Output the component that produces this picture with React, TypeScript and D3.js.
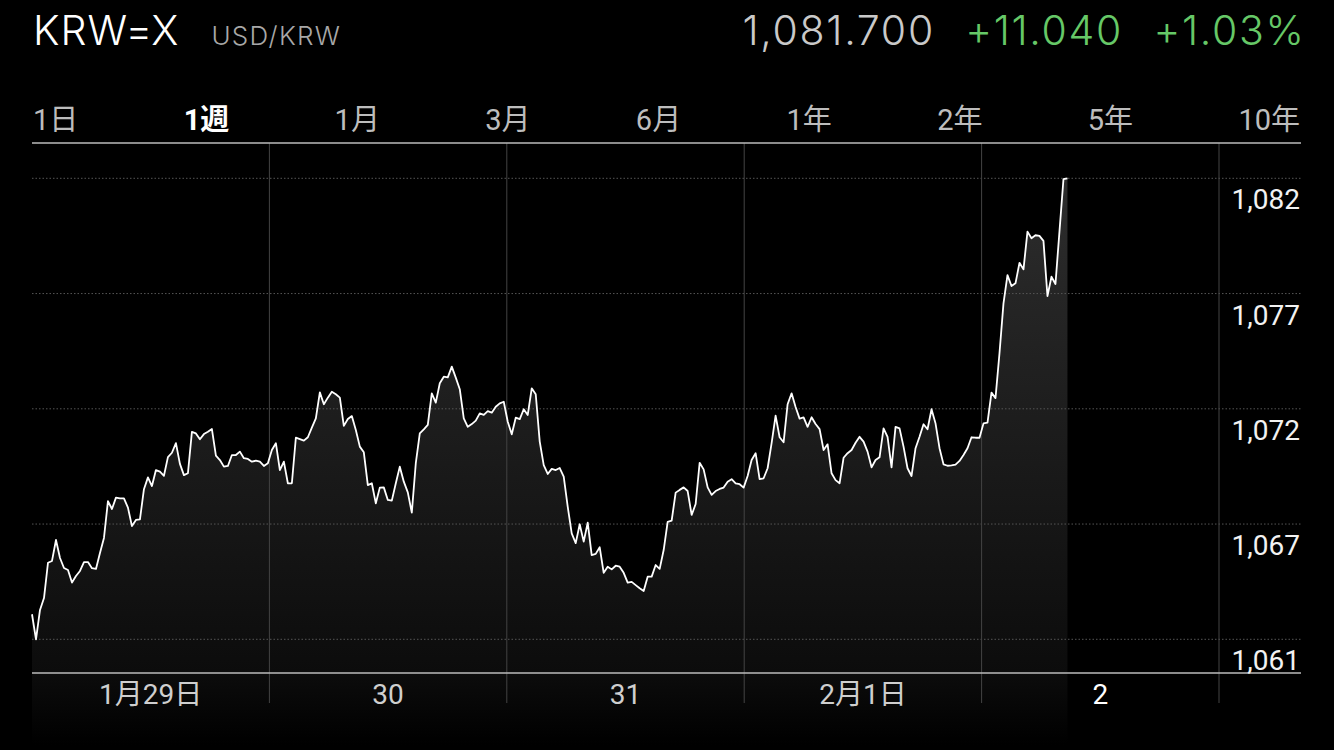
import React, { useEffect, useRef } from "react";
import * as d3 from "d3";

const symbol = "KRW=X";
const pairName = "USD/KRW";
const lastPrice = "1,081.700";
const change = "+11.040";
const changePct = "+1.03%";
const ranges = ["1日", "1週", "1月", "3月", "6月", "1年", "2年", "5年", "10年"];
const activeRange = "1週";
const dayLabels = ["1月29日", "30", "31", "2月1日", "2"];
const currentDay = "2";
const yTickValues = [1081.7, 1076.64, 1071.58, 1066.52, 1061.46];
const yTickLabels = ["1,082", "1,077", "1,072", "1,067", "1,061"];
const sampleMinutes = 24.25;
const prices = [
  1062.56, 1061.46, 1062.75, 1063.27, 1064.82, 1064.9, 1065.82, 1065.03, 1064.59, 1064.5,
  1063.95, 1064.24, 1064.46, 1064.85, 1064.85, 1064.58, 1064.55, 1065.25, 1065.91, 1067.53,
  1067.18, 1067.68, 1067.65, 1067.65, 1067.24, 1066.43, 1066.7, 1066.73, 1068.05, 1068.57,
  1068.19, 1068.89, 1068.82, 1068.64, 1069.46, 1069.65, 1070.07, 1069.16, 1068.67, 1068.75,
  1070.57, 1070.5, 1070.24, 1070.47, 1070.57, 1070.69, 1069.52, 1069.33, 1069.04, 1069.07,
  1069.55, 1069.55, 1069.7, 1069.41, 1069.38, 1069.26, 1069.3, 1069.26, 1069.07, 1069.19,
  1069.77, 1070.07, 1068.89, 1069.26, 1068.31, 1068.31, 1070.31, 1070.25, 1070.18, 1070.33,
  1070.75, 1071.16, 1072.3, 1071.78, 1072.07, 1072.33, 1072.22, 1072.07, 1070.83, 1071.13,
  1071.26, 1070.65, 1069.92, 1069.67, 1068.23, 1068.31, 1067.43, 1068.12, 1068.13, 1067.58,
  1067.55, 1068.31, 1069.04, 1068.38, 1067.91, 1067.02, 1069.19, 1070.5, 1070.68, 1070.87,
  1072.26, 1071.85, 1072.7, 1072.99, 1072.96, 1073.43, 1072.95, 1072.44, 1071.16, 1070.79,
  1070.91, 1071.06, 1071.38, 1071.31, 1071.48, 1071.41, 1071.67, 1071.82, 1071.89, 1071.01,
  1070.46, 1071.19, 1071.13, 1071.56, 1071.31, 1072.48, 1072.22, 1070.14, 1069.11, 1068.72,
  1068.94, 1068.89, 1068.98, 1068.6, 1067.28, 1066.11, 1065.68, 1066.51, 1065.75, 1066.58,
  1065.16, 1065.21, 1065.5, 1064.38, 1064.65, 1064.53, 1064.69, 1064.65, 1064.38, 1063.95,
  1063.98, 1063.84, 1063.7, 1063.58, 1064.21, 1064.21, 1064.72, 1064.55, 1065.38, 1066.62,
  1066.67, 1067.9, 1068.02, 1068.13, 1067.97, 1066.92, 1067.4, 1069.21, 1068.92, 1068.13,
  1067.8, 1067.97, 1068.06, 1068.12, 1068.38, 1068.49, 1068.31, 1068.27, 1068.12, 1068.63,
  1069.33, 1069.63, 1068.49, 1068.53, 1068.97, 1070.07, 1071.28, 1070.33, 1070.11, 1071.78,
  1072.26, 1071.66, 1071.15, 1071.2, 1070.79, 1071.21, 1070.91, 1070.69, 1069.77, 1070.02,
  1068.75, 1068.45, 1068.31, 1069.43, 1069.63, 1069.77, 1070.09, 1070.35, 1070.14, 1069.7,
  1069.01, 1069.33, 1069.45, 1070.72, 1070.35, 1069.01, 1070.79, 1070.72, 1069.92, 1068.97,
  1068.63, 1069.85, 1070.35, 1070.9, 1070.68, 1071.56, 1070.94, 1069.85, 1069.14, 1069.08,
  1069.1, 1069.13, 1069.29, 1069.55, 1069.85, 1070.33, 1070.31, 1070.31, 1070.94, 1070.97,
  1072.29, 1072.05, 1074.02, 1076.21, 1077.45, 1076.97, 1077.09, 1077.99, 1077.7, 1079.36,
  1079.07, 1079.2, 1079.17, 1078.95, 1076.53, 1077.38, 1077.06, 1079.36, 1081.66, 1081.7,
];

const W = 1334;
const H = 750;
const FONT = "Roboto, 'Noto Sans CJK JP', 'Noto Sans', sans-serif";
const HEAD_FONT = "Inter, Roboto, 'Noto Sans', sans-serif";

export default function App() {
  const ref = useRef<SVGSVGElement | null>(null);

  useEffect(() => {
    document.body.style.margin = "0";
    document.body.style.background = "#000";
    const svg = d3.select(ref.current!);
    svg.selectAll("*").remove();

    const left = 32;
    const dayRight = 1219;
    const right = 1301;
    const yTop = 178.3;
    const yBottom = 639.3;
    const axisY = 673;
    const tabLineY = 143;
    const vBottom = 703;
    const fillBottom = 745;

    const x = d3.scaleLinear().domain([0, dayLabels.length]).range([left, dayRight]);
    const y = d3
      .scaleLinear()
      .domain([yTickValues[yTickValues.length - 1], yTickValues[0]])
      .range([yBottom, yTop]);

    const pts = prices.map((v, i) => ({ t: (i * sampleMinutes) / 1440, v }));

    svg.append("rect").attr("width", W).attr("height", H).attr("fill", "#000");

    const defs = svg.append("defs");
    const grad = defs
      .append("linearGradient")
      .attr("id", "fillGrad")
      .attr("gradientUnits", "userSpaceOnUse")
      .attr("x1", 0)
      .attr("x2", 0)
      .attr("y1", yTop)
      .attr("y2", fillBottom);
    grad.append("stop").attr("offset", 0).attr("stop-color", "#2d2d2d");
    grad.append("stop").attr("offset", (axisY - yTop) / (fillBottom - yTop)).attr("stop-color", "#0c0c0c");
    grad.append("stop").attr("offset", 1).attr("stop-color", "#000");

    const area = d3
      .area<{ t: number; v: number }>()
      .x((d) => x(d.t))
      .y0(fillBottom)
      .y1((d) => y(d.v));
    svg.append("path").datum(pts).attr("d", area).attr("fill", "url(#fillGrad)");

    svg
      .append("g")
      .selectAll("line")
      .data(yTickValues)
      .join("line")
      .attr("x1", left)
      .attr("x2", right)
      .attr("y1", (d) => y(d))
      .attr("y2", (d) => y(d))
      .attr("stroke", "#555")
      .attr("stroke-width", 1)
      .attr("stroke-dasharray", "1.5,2");

    svg
      .append("g")
      .selectAll("line")
      .data(d3.range(1, dayLabels.length + 1))
      .join("line")
      .attr("x1", (d) => x(d))
      .attr("x2", (d) => x(d))
      .attr("y1", tabLineY)
      .attr("y2", vBottom)
      .attr("stroke", "#444")
      .attr("stroke-width", 1);

    const line = d3
      .line<{ t: number; v: number }>()
      .x((d) => x(d.t))
      .y((d) => y(d.v));
    svg
      .append("path")
      .datum(pts)
      .attr("d", line)
      .attr("fill", "none")
      .attr("stroke", "#fff")
      .attr("stroke-width", 1.8)
      .attr("stroke-linejoin", "round");

    svg.append("line").attr("x1", left).attr("x2", right).attr("y1", axisY).attr("y2", axisY).attr("stroke", "#bbb").attr("stroke-width", 1.5);
    svg.append("line").attr("x1", left).attr("x2", right).attr("y1", tabLineY).attr("y2", tabLineY).attr("stroke", "#bbb").attr("stroke-width", 1.5);

    svg
      .append("g")
      .selectAll("text")
      .data(yTickValues)
      .join("text")
      .attr("x", right - 1)
      .attr("y", (d) => y(d) + 31)
      .attr("text-anchor", "end")
      .attr("fill", "#f2f2f2")
      .attr("font-family", FONT)
      .attr("font-size", 28)
      .text((_, i) => yTickLabels[i]);

    svg
      .append("g")
      .selectAll("text")
      .data(dayLabels)
      .join("text")
      .attr("x", (_, i) => x(i + 0.5))
      .attr("y", 704)
      .attr("text-anchor", "middle")
      .attr("fill", (d) => (d === currentDay ? "#fff" : "#cfcfcf"))
      .attr("font-family", FONT)
      .attr("font-size", 28)
      .text((d) => d);

    const title = svg
      .append("text")
      .attr("x", 33)
      .attr("y", 45)
      .attr("fill", "#fff")
      .attr("font-family", HEAD_FONT)
      .attr("font-weight", 300)
      .attr("font-size", 41)
      .attr("letter-spacing", 1)
      .text(symbol);
    const tw = (title.node() as SVGTextElement).getComputedTextLength();
    svg
      .append("text")
      .attr("x", 33 + tw + 32)
      .attr("y", 45)
      .attr("fill", "#a8a8a8")
      .attr("font-family", HEAD_FONT)
      .attr("font-weight", 300)
      .attr("font-size", 26)
      .attr("letter-spacing", 1.3)
      .text(pairName);

    const rightItems = [
      { t: changePct, c: "#66c867" },
      { t: change, c: "#66c867" },
      { t: lastPrice, c: "#c9c9c9" },
    ];
    const ls = 1.7;
    let xr = right + 3 + ls;
    rightItems.forEach((it) => {
      const el = svg
        .append("text")
        .attr("x", xr)
        .attr("y", 45)
        .attr("text-anchor", "end")
        .attr("fill", it.c)
        .attr("font-family", HEAD_FONT)
        .attr("font-weight", 300)
        .attr("font-size", 41)
        .attr("letter-spacing", ls)
        .text(it.t);
      xr -= (el.node() as SVGTextElement).getComputedTextLength() + 32 - ls;
    });

    const tabs = svg
      .append("g")
      .selectAll("text")
      .data(ranges)
      .join("text")
      .attr("y", 130)
      .attr("fill", (d) => (d === activeRange ? "#fff" : "#bdbdbd"))
      .attr("font-weight", (d) => (d === activeRange ? 700 : 400))
      .attr("font-family", FONT)
      .attr("font-size", 29)
      .text((d) => d);
    const widths: number[] = [];
    tabs.each(function () {
      widths.push((this as SVGTextElement).getComputedTextLength());
    });
    const total = d3.sum(widths);
    const gap = (right - 1 - 33 - total) / (ranges.length - 1);
    let cx = 33;
    const xs: number[] = [];
    widths.forEach((w) => {
      xs.push(cx);
      cx += w + gap;
    });
    tabs.attr("x", (_, i) => xs[i]);
  }, []);

  return (
    <svg
      ref={ref}
      width={W}
      height={H}
      style={{ display: "block", position: "absolute", left: 0, top: 0 }}
    />
  );
}
